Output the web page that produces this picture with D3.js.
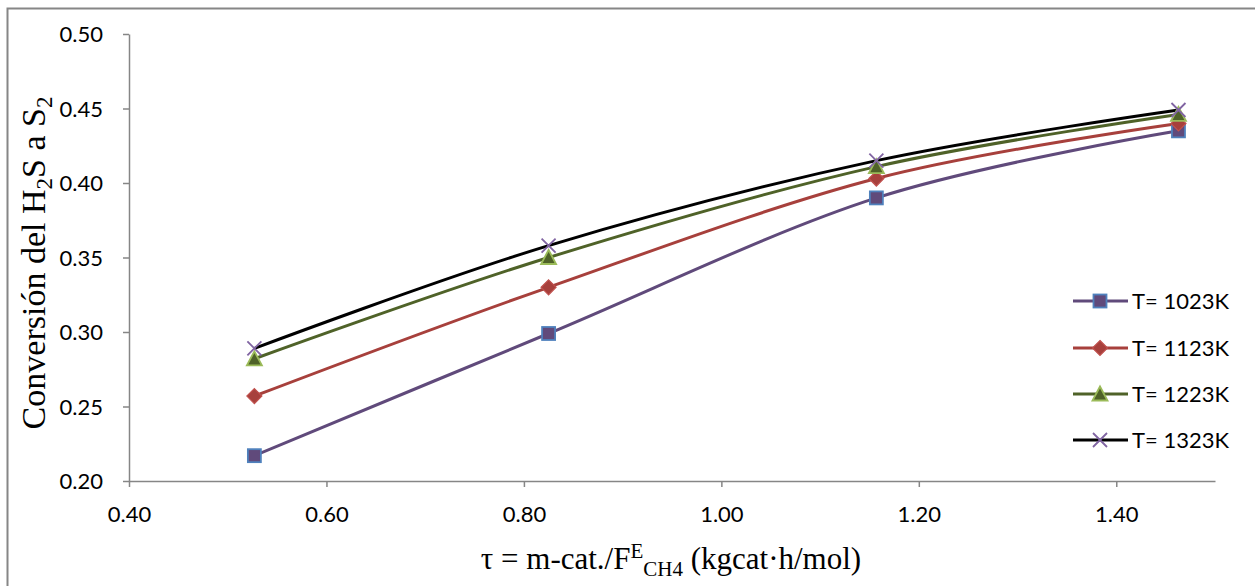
<!DOCTYPE html>
<html><head><meta charset="utf-8">
<script src="https://cdn.jsdelivr.net/npm/d3@7"></script>
<style>body{margin:0;background:#fff}svg{display:block}</style>
</head><body>
<svg id="c" width="1255" height="586"></svg>
<script>
const tau = [0.527, 0.825, 1.157, 1.463];
const seriesNames = ["T= 1023K", "T= 1123K", "T= 1223K", "T= 1323K"];
const conv1023 = [0.217, 0.299, 0.390, 0.435];
const conv1123 = [0.257, 0.330, 0.403, 0.440];
const conv1223 = [0.282, 0.350, 0.411, 0.446];
const conv1323 = [0.289, 0.358, 0.415, 0.449];
const xTicks = [0.40, 0.60, 0.80, 1.00, 1.20, 1.40];
const yTicks = [0.20, 0.25, 0.30, 0.35, 0.40, 0.45, 0.50];

const styles = [
  {line:"#604A7B", fill:"#604A7B", stroke:"#4F81BD", sym:"square"},
  {line:"#A7403C", fill:"#A7403C", stroke:"#C0504D", sym:"diamond"},
  {line:"#4F6228", fill:"#4F6228", stroke:"#9BBB59", sym:"triangle"},
  {line:"#000000", fill:"none", stroke:"#8064A2", sym:"x"}
];
const data = [conv1023, conv1123, conv1223, conv1323].map((v,i)=>({name:seriesNames[i], pts: tau.map((t,j)=>({x:t,y:v[j]})), st:styles[i]}));

const svg = d3.select("#c");
const L=129, R=1215, T=34, B=481;
const x = d3.scaleLinear().domain([0.4,1.5]).range([L,R]);
const y = d3.scaleLinear().domain([0.2,0.5]).range([B,T]);

svg.append("rect").attr("x",7.5).attr("y",8.5).attr("width",1260).attr("height",600)
  .attr("fill","#fff").attr("stroke","#868686").attr("stroke-width",2);

const tickFont = "Lato, 'Open Sans', sans-serif";
const ax = svg.append("g").attr("transform",`translate(0,${B})`)
  .call(d3.axisBottom(x).tickValues(xTicks).tickFormat(d3.format(".2f")).tickSizeOuter(0).tickSizeInner(6).tickPadding(19));
const ay = svg.append("g").attr("transform",`translate(${L},0)`)
  .call(d3.axisLeft(y).tickValues(yTicks).tickFormat(d3.format(".2f")).tickSizeOuter(0).tickSizeInner(6).tickPadding(20));
[ax,ay].forEach(g=>{
  g.select(".domain").attr("stroke","#868686").attr("stroke-width",1.5);
  g.selectAll(".tick line").attr("stroke","#868686").attr("stroke-width",1.5);
  g.selectAll(".tick text").attr("font-family",tickFont).attr("font-size",22).attr("fill","#000");
});
ay.selectAll(".tick text").attr("dy","0.35em");

const line = d3.line().x(d=>x(d.x)).y(d=>y(d.y)).curve(d3.curveCardinal.tension(0));

function marker(g, st, cx, cy){
  const s=6.5;
  if(st.sym==="square"){
    g.append("rect").attr("x",cx-s).attr("y",cy-s).attr("width",2*s).attr("height",2*s)
      .attr("fill",st.fill).attr("stroke",st.stroke).attr("stroke-width",1.8);
  } else if(st.sym==="diamond"){
    g.append("path").attr("d",`M${cx},${cy-7.5}L${cx+7.5},${cy}L${cx},${cy+7.5}L${cx-7.5},${cy}Z`)
      .attr("fill",st.fill).attr("stroke",st.stroke).attr("stroke-width",1.2);
  } else if(st.sym==="triangle"){
    g.append("path").attr("d",`M${cx},${cy-7.5}L${cx+7.5},${cy+6.5}L${cx-7.5},${cy+6.5}Z`)
      .attr("fill",st.fill).attr("stroke",st.stroke).attr("stroke-width",1.8);
  } else {
    g.append("path").attr("d",`M${cx-7},${cy-7}L${cx+7},${cy+7}M${cx-7},${cy+7}L${cx+7},${cy-7}`)
      .attr("fill","none").attr("stroke",st.stroke).attr("stroke-width",1.8);
  }
}

data.forEach(s=>{
  svg.append("path").datum(s.pts).attr("d",line).attr("fill","none")
    .attr("stroke",s.st.line).attr("stroke-width",3);
});
data.forEach(s=>{
  const g = svg.append("g");
  s.pts.forEach(p=>marker(g, s.st, x(p.x), y(p.y)));
});

// legend
const legY = [301, 348, 394, 440];
data.forEach((s,i)=>{
  const g = svg.append("g");
  g.append("line").attr("x1",1073).attr("x2",1128).attr("y1",legY[i]).attr("y2",legY[i])
    .attr("stroke",s.st.line).attr("stroke-width",3);
  marker(g, s.st, 1100, legY[i]);
  g.append("text").attr("x",1132).attr("y",legY[i]).attr("dy","0.35em")
    .attr("font-family",tickFont).attr("font-size",22).text(s.name);
});

// axis titles
const serif = "'Liberation Serif', 'Times New Roman', serif";
const yt = svg.append("text").attr("transform","translate(45,263) rotate(-90)")
  .attr("text-anchor","middle").attr("font-family",serif).attr("font-size",34);
yt.append("tspan").text("Conversión del H");
yt.append("tspan").attr("font-size",23).attr("dy",7).text("2");
yt.append("tspan").attr("dy",-7).text("S a S");
yt.append("tspan").attr("font-size",23).attr("dy",7).text("2");

const xt = svg.append("text").attr("x",671).attr("y",569)
  .attr("text-anchor","middle").attr("font-family",serif).attr("font-size",31);
xt.append("tspan").text("τ = m-cat./F");
xt.append("tspan").attr("font-size",21).attr("dy",-11).text("E");
xt.append("tspan").attr("font-size",21).attr("dy",18).text("CH4");
xt.append("tspan").attr("dy",-7).text(" (kgcat·h/mol)");
</script>
</body></html>
